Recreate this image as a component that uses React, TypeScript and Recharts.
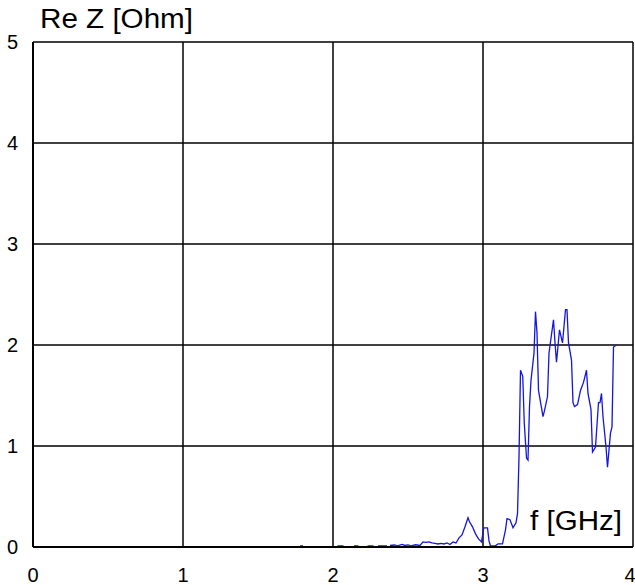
import React from "react";
import {
  LineChart,
  Line,
  XAxis,
  YAxis,
  CartesianGrid,
  Label,
} from "recharts";

// frequency in GHz, null value = gap in the trace
const freq = [
  1.78, 1.8, 1.81,
  2.03, 2.07, 2.08,
  2.14, 2.17, 2.18,
  2.23, 2.27, 2.28,
  2.3, 2.36, 2.37,
  2.38, 2.41, 2.43, 2.46, 2.48, 2.5, 2.52, 2.55, 2.58, 2.6, 2.62, 2.64, 2.66,
  2.68, 2.7, 2.72, 2.74, 2.76, 2.78, 2.8, 2.82, 2.84, 2.86, 2.88, 2.9, 2.91,
  2.93, 2.95, 2.97, 2.99, 3.005, 3.03, 3.04, 3.05, 3.08, 3.1, 3.13, 3.14, 3.15,
  3.16, 3.18, 3.2, 3.22, 3.23, 3.24, 3.25, 3.265, 3.275, 3.29, 3.3, 3.31, 3.32,
  3.34, 3.35, 3.36, 3.37, 3.4, 3.41, 3.43, 3.44, 3.47, 3.48, 3.49, 3.51, 3.53,
  3.55, 3.56, 3.57, 3.59, 3.6, 3.61, 3.63, 3.65, 3.67, 3.69, 3.7, 3.72, 3.73,
  3.75, 3.77, 3.78, 3.79, 3.8, 3.82, 3.83, 3.85, 3.86, 3.87, 3.89,
];

const reZ = [
  0.012, 0.012, null,
  0.012, 0.012, null,
  0.012, 0.012, null,
  0.012, 0.012, null,
  0.012, 0.012, null,
  0.015, 0.02, 0.012, 0.025, 0.015, 0.02, 0.012, 0.022, 0.015, 0.05, 0.045, 0.05, 0.04,
  0.035, 0.03, 0.035, 0.03, 0.04, 0.025, 0.05, 0.04, 0.09, 0.12, 0.2, 0.29, 0.25,
  0.2, 0.13, 0.08, 0.05, 0.19, 0.19, 0.06, 0.01, 0.01, 0.03, 0.03, 0.1, 0.17,
  0.28, 0.27, 0.19, 0.24, 0.33, 0.89, 1.75, 1.69, 1.23, 0.88, 0.86, 1.39, 1.65,
  1.92, 2.33, 2.12, 1.55, 1.29, 1.35, 1.49, 1.92, 2.25, 2.02, 1.83, 2.15, 2.02,
  2.35, 2.35, 2.02, 1.85, 1.43, 1.39, 1.41, 1.55, 1.63, 1.75, 1.52, 1.36, 0.94,
  0.99, 1.43, 1.43, 1.52, 1.29, 0.99, 0.79, 1.13, 1.19, 1.98, 2.0,
];

const xTicks = [0, 1, 2, 3, 4];
const yTicks = [0, 1, 2, 3, 4, 5];

const data = freq.map((f, i) => ({ f, z: reZ[i] }));

const FONT = "Arial, 'Liberation Sans', sans-serif";
const tickStyle = { fill: "#000", fontSize: 20, fontFamily: FONT };

export default function App() {
  return (
    <div style={{ position: "absolute", left: 0, top: 0, background: "#fff" }}>
      <LineChart
        width={635}
        height={585}
        data={data}
        margin={{ top: 42, right: 2, bottom: 0, left: 0 }}
      >
        <CartesianGrid stroke="#000" strokeWidth={1.5} />
        <XAxis
          dataKey="f"
          type="number"
          domain={[0, 4]}
          ticks={xTicks}
          height={38}
          tickSize={0}
          tickMargin={21}
          tick={tickStyle}
          axisLine={{ stroke: "#000", strokeWidth: 2 }}
        >
          <Label
            content={() => (
              <text
                x={530}
                y={530}
                fontSize={27}
                fontFamily={FONT}
                fill="#000"
                textLength={92}
                lengthAdjust="spacingAndGlyphs"
              >
                f [GHz]
              </text>
            )}
          />
        </XAxis>
        <YAxis
          type="number"
          domain={[0, 5]}
          ticks={yTicks}
          width={33}
          tickSize={0}
          tickMargin={15}
          tick={tickStyle}
          axisLine={{ stroke: "#000", strokeWidth: 2 }}
        >
          <Label
            content={() => (
              <text
                x={40}
                y={28}
                fontSize={27}
                fontFamily={FONT}
                fill="#000"
                textLength={153}
                lengthAdjust="spacingAndGlyphs"
              >
                Re Z [Ohm]
              </text>
            )}
          />
        </YAxis>
        <Line
          type="linear"
          dataKey="z"
          stroke="#1515e0"
          strokeWidth={1.3}
          dot={false}
          isAnimationActive={false}
        />
      </LineChart>
    </div>
  );
}
